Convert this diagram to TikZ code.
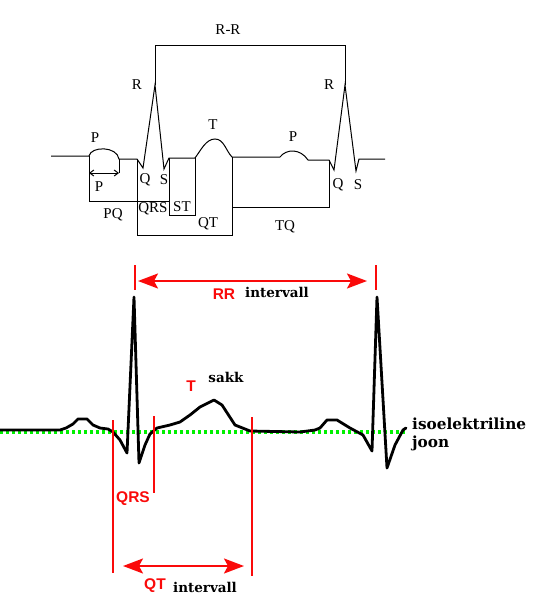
\documentclass[tikz,border=0pt]{standalone}
\usepackage{fontspec}
\setmainfont{Liberation Serif}
\newfontfamily\lsans{Liberation Sans}
\newfontfamily\dvserif{DejaVu Serif}
\usetikzlibrary{arrows.meta}
\definecolor{isogreen}{RGB}{0,240,0}
\definecolor{ecgred}{RGB}{250,10,10}
\begin{document}
\begin{tikzpicture}[x=1pt,y=-1pt,
  lbl/.style={font=\fontsize{15}{15}\selectfont, inner sep=0pt},
  wave/.style={line width=1pt, line join=miter},
  boxline/.style={line width=1pt},
  redl/.style={draw=ecgred, line width=2pt},
  redlbl/.style={text=ecgred, font=\lsans\bfseries\fontsize{15.5}{16}\selectfont, inner sep=0pt},
  blk/.style={font=\dvserif\bfseries\fontsize{13.5}{14}\selectfont, inner sep=0pt},
  isolbl/.style={font=\dvserif\bfseries\fontsize{15.3}{15}\selectfont, inner sep=0pt, anchor=west},
  bigarrow/.style={draw=ecgred, line width=2pt, {Stealth[length=20pt,width=15pt,inset=4pt]}-{Stealth[length=20pt,width=15pt,inset=4pt]}},
  ecg/.style={line width=2.8pt, line join=round, line cap=round},
  iso/.style={draw=isogreen, line width=3.2pt, dash pattern=on 3.2pt off 2.8pt}
]
\useasboundingbox (0,0) rectangle (533,611);
\fill[white] (0,0) rectangle (533,611);

% ---------------- upper schematic ----------------
\coordinate (bl0) at (51,156);
\coordinate (p1s) at (89,156);
\coordinate (p1e) at (119,159);
\coordinate (q1s) at (137,159);
\coordinate (q1) at (143,168);
\coordinate (r1) at (155,85);
\coordinate (s1) at (164,169);
\coordinate (st1) at (169,158);
\coordinate (st2) at (195,158);
\coordinate (tpk) at (215,139);
\coordinate (t1e) at (232,157);
\coordinate (p2s) at (280,157);
\coordinate (p2e) at (308,160);
\coordinate (q2s) at (329,160);
\coordinate (q2) at (334,170);
\coordinate (r2) at (345,85);
\coordinate (s2) at (356,171);
\coordinate (s2e) at (359,159);
\coordinate (bl1) at (385,159);

\draw[wave] (bl0) -- (p1s) .. controls (91,146) and (117,146) .. (p1e) -- (q1s) -- (q1) -- (r1) -- (s1) -- (st1) -- (st2)
  .. controls (201,150) and (206,139) .. (tpk) .. controls (224,139) and (226,151) .. (t1e) -- (p2s)
  .. controls (286,149) and (300,148) .. (p2e) -- (q2s) -- (q2) -- (r2) -- (s2) -- (s2e) -- (bl1);

% boxes
\coordinate (pqbl) at (89,201);
\coordinate (qrsbr) at (169,201);
\coordinate (pa1) at (89,173);
\coordinate (pa2) at (119,173);
\coordinate (qtbl) at (137,235);
\coordinate (qtbr) at (232,235);
\coordinate (stbl) at (169,215);
\coordinate (stbr) at (195,215);
\coordinate (tqbl) at (232,207);
\coordinate (tqbr) at (329,207);
\coordinate (rr1) at (155,45);
\coordinate (rr2) at (345,45);

\draw[boxline] (p1s) -- (pqbl) -- (qrsbr);
\draw[boxline] (p1e) -- (pa2);
\draw[boxline, {Straight Barb[length=4pt,width=6pt]}-{Straight Barb[length=4pt,width=6pt]}] (pa1) -- (pa2);
\draw[boxline] (q1s) -- (qtbl) -- (qtbr) -- (t1e);
\draw[boxline] (st1) -- (stbl) -- (stbr) -- (st2);
\draw[boxline] (tqbl) -- (tqbr) -- (q2s);
\draw[boxline] (r1) -- (rr1) -- (rr2) -- (r2);

% labels
\node[lbl] (lRR) at (228,30) {R-R};
\node[lbl] (lR1) at (137,85) {R};
\node[lbl] (lR2) at (329,85) {R};
\node[lbl] (lP1) at (95,138) {P};
\node[lbl] (lT) at (213,125) {T};
\node[lbl] (lP2) at (293,137) {P};
\node[lbl] (lP3) at (99,187) {P};
\node[lbl] (lQ1) at (145,180) {Q};
\node[lbl] (lS1) at (164,180) {S};
\node[lbl] (lQ2) at (338,185) {Q};
\node[lbl] (lS2) at (358,185) {S};
\node[lbl] (lPQ) at (113,215) {PQ};
\node[lbl] (lQRS) at (153,209) {QRS};
\node[lbl] (lST) at (182,207) {ST};
\node[lbl] (lQT) at (208,224) {QT};
\node[lbl] (lTQ) at (285,227) {TQ};

% ---------------- lower ECG ----------------
\coordinate (isoL) at (0,432);
\coordinate (isoR) at (405,432);
\draw[iso] (isoL) -- (isoR);

\draw[ecg] (0,430) -- (60,430) -- (66,428) -- (73,424) -- (78,419) -- (87,419) -- (93,425) -- (100,428) -- (108,429)
  -- (113,432) -- (120,440) -- (127,453) -- (134,297) -- (139,463) -- (145,445) -- (150,434) -- (157,428)
  -- (170,425) -- (180,422) -- (190,415) -- (200,407) -- (214,400) -- (222,405) -- (235,425) -- (250,431)
  -- (300,432) -- (315,430) -- (320,428) -- (327,420) -- (337,420) -- (350,428) -- (363,435) -- (372,451)
  -- (377,297) -- (387,468) -- (395,445) -- (403,430) -- (406,428);

% red markers
\coordinate (rrT1) at (135,265); \coordinate (rrB1) at (135,290);
\coordinate (rrT2) at (376,265); \coordinate (rrB2) at (376,290);
\coordinate (qrsT) at (113,420); \coordinate (qrsB) at (113,573);
\coordinate (sT) at (154,416);  \coordinate (sB) at (154,493);
\coordinate (tT) at (252,417);  \coordinate (tB) at (252,576);
\coordinate (rrA1) at (138,281); \coordinate (rrA2) at (367,281);
\coordinate (qtA1) at (123,566); \coordinate (qtA2) at (244,566);

\draw[redl] (rrT1) -- (rrB1);
\draw[redl] (rrT2) -- (rrB2);
\draw[redl] (qrsT) -- (qrsB);
\draw[redl] (sT) -- (sB);
\draw[redl] (tT) -- (tB);
\draw[bigarrow] (rrA1) -- (rrA2);
\draw[bigarrow] (qtA1) -- (qtA2);

\node[redlbl] (nRR) at (224,294) {RR};
\node[blk] (nRRi) at (277,292) {intervall};
\node[redlbl] (nT) at (191,386) {T};
\node[blk] (nsakk) at (226,377) {sakk};
\node[redlbl] (nQRS) at (133,499) {QRS};
\node[redlbl] (nQT) at (155,586) {QT};
\node[blk] (nQTi) at (205,587) {intervall};
\node[isolbl] (niso) at (412,424) {isoelektriline};
\node[isolbl] (njoon) at (412,443) {joon};
\end{tikzpicture}
\end{document}
